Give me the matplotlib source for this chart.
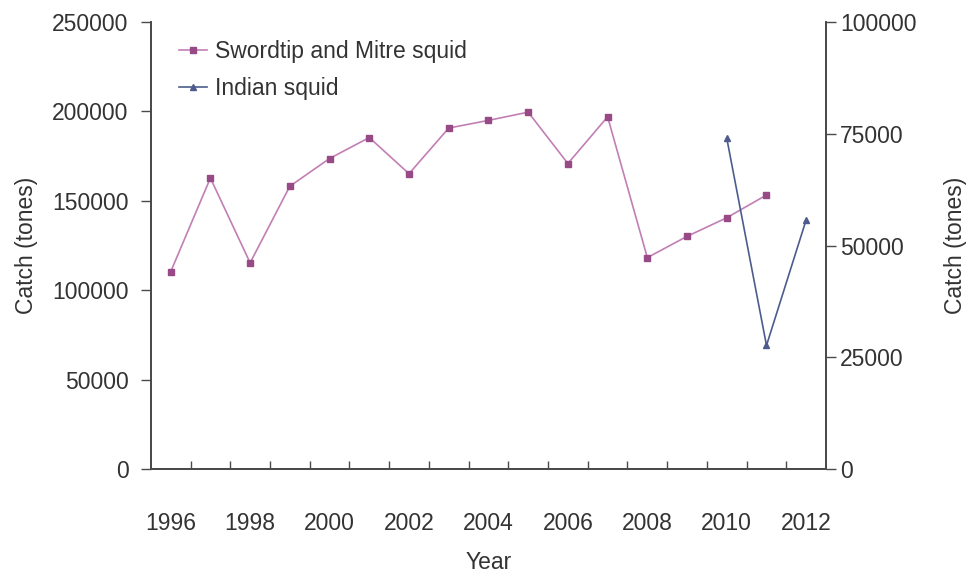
import numpy as np
import matplotlib.pyplot as plt

plt.rcParams['font.family'] = ['Liberation Sans', 'DejaVu Sans']

years = list(range(1996, 2013))
swordtip_years = list(range(1996, 2012))
swordtip_catch = [110400, 162800, 115400, 158200, 173700, 185400, 165200, 190700,
                  195000, 199600, 170900, 197000, 118300, 130200, 140600, 153300]
indian_years = [2010, 2011, 2012]
indian_catch = [74000, 27700, 55800]

left_ticks = [0, 50000, 100000, 150000, 200000, 250000]
right_ticks = [0, 25000, 50000, 75000, 100000]
year_labels = [1996, 1998, 2000, 2002, 2004, 2006, 2008, 2010, 2012]

pink = '#c27fb4'
pink_mk = '#984a86'
blue = '#4d5c8c'
spine_col = '#4a4a4a'
txt = '#333333'
fs = 16.5

fig = plt.figure(figsize=(9.73, 5.78), dpi=100)
ax = fig.add_axes([0.155, 0.188, 0.694, 0.774])
ax2 = ax.twinx()

l1, = ax.plot(swordtip_years, swordtip_catch, color=pink, lw=1.2, marker='s',
              ms=4, mfc=pink_mk, mec=pink_mk, label='Swordtip and Mitre squid')
l2, = ax2.plot(indian_years, indian_catch, color=blue, lw=1.2, marker='^',
               ms=5, mfc=blue, mec=blue, label='Indian squid')

ax.set_xlim(1995.5, 2012.5)
ax.set_ylim(0, 250000)
ax2.set_ylim(0, 100000)

# category boundaries get the ticks, labels sit between them
ax.set_xticks(np.arange(1996.5, 2012.5, 1))
ax.set_xticklabels([])
ax.tick_params(axis='x', which='major', direction='in', length=6, width=1, color=spine_col)
ax.set_xticks(year_labels, minor=True)
ax.set_xticklabels([str(y) for y in year_labels], minor=True)
ax.tick_params(axis='x', which='minor', length=0, pad=31, labelsize=fs, labelcolor=txt)

ax.set_yticks(left_ticks)
ax.set_yticklabels([str(v) for v in left_ticks])
ax.tick_params(axis='y', direction='out', length=7, width=1, color=spine_col,
               labelsize=fs, labelcolor=txt, pad=9)
ax2.set_yticks(right_ticks)
ax2.set_yticklabels([str(v) for v in right_ticks])
ax2.tick_params(axis='y', direction='out', length=7, width=1, color=spine_col,
                labelsize=fs, labelcolor=txt, pad=3)

for a in (ax, ax2):
    a.spines['top'].set_visible(False)
    for s in ('left', 'right', 'bottom'):
        a.spines[s].set_color(spine_col)
        a.spines[s].set_linewidth(1.3)

ax.set_xlabel('Year', fontsize=fs, color=txt, labelpad=11)
ax.set_ylabel('Catch (tones)', fontsize=fs, color=txt, labelpad=10)
ax2.set_ylabel('Catch (tones)', fontsize=fs, color=txt, labelpad=20, rotation=90)

ax.legend(handles=[l1, l2], loc='upper left', bbox_to_anchor=(0.042, 0.96),
          frameon=False, fontsize=fs, handlelength=1.2, handletextpad=0.35,
          labelspacing=0.6, borderpad=0, borderaxespad=0, labelcolor=txt)

fig.savefig('out.png', dpi=100)
